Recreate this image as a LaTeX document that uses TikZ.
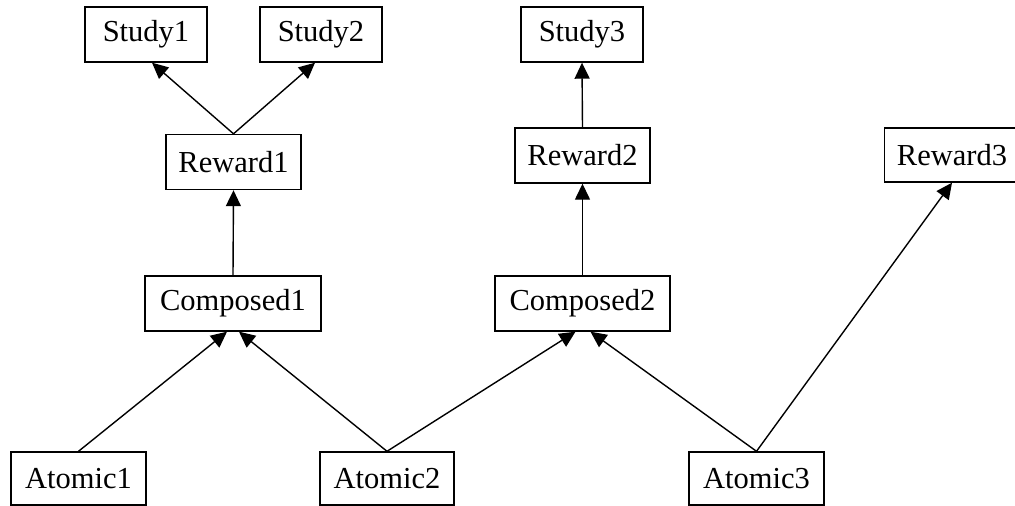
\documentclass[tikz,border=0pt]{standalone}
\usepackage{fontspec}
\setmainfont{Liberation Serif}
\usetikzlibrary{arrows.meta}
\begin{document}
\begin{tikzpicture}[x=1pt,y=-1pt,
  box/.style={draw, line width=1.4pt, rectangle, inner sep=0pt,
    minimum height=55pt, font=\fontsize{30.5}{36}\selectfont},
  link/.style={line width=1.4pt, -{Triangle[length=16pt,width=15pt]}}]
\useasboundingbox (0,0) rectangle (1015,506);
% top row: studies
\node[box, minimum width=122pt] (s1) at (146,34.5) {Study1};
\node[box, minimum width=122pt] (s2) at (321,34.5) {Study2};
\node[box, minimum width=122pt] (s3) at (582,34.5) {Study3};
% rewards
\node[box, minimum width=135pt] (r1) at (233.5,162) {Reward1};
\node[box, minimum width=135pt] (r2) at (582.5,155.5) {Reward2};
\node[box, minimum width=135pt, minimum height=54pt] (r3) at (952,155) {Reward3};
% composed
\node[box, minimum width=176pt] (c1) at (233,303.5) {Composed1};
\node[box, minimum width=175pt] (c2) at (582.5,303.5) {Composed2};
% atomic
\node[box, minimum width=135pt, minimum height=53pt] (a1) at (78.5,478.5) {Atomic1};
\node[box, minimum width=134pt, minimum height=53pt] (a2) at (387,478.5) {Atomic2};
\node[box, minimum width=135pt, minimum height=53pt] (a3) at (756.5,478.5) {Atomic3};
% connectors
\draw[link] (a1.north) -- ([xshift=-6pt]c1.south);
\draw[link] (a2.north) -- ([xshift=6pt]c1.south);
\draw[link] (a2.north) -- ([xshift=-7pt]c2.south);
\draw[link] (a3.north) -- ([xshift=8pt]c2.south);
\draw[link] (a3.north) -- (r3.south);
\draw[link] (c1.north) -- (r1.south);
\draw[link] (c2.north) -- (r2.south);
\draw[link] (r1.north) -- ([xshift=6pt]s1.south);
\draw[link] (r1.north) -- ([xshift=-6pt]s2.south);
\draw[link] (r2.north) -- (s3.south);
\end{tikzpicture}
\end{document}
